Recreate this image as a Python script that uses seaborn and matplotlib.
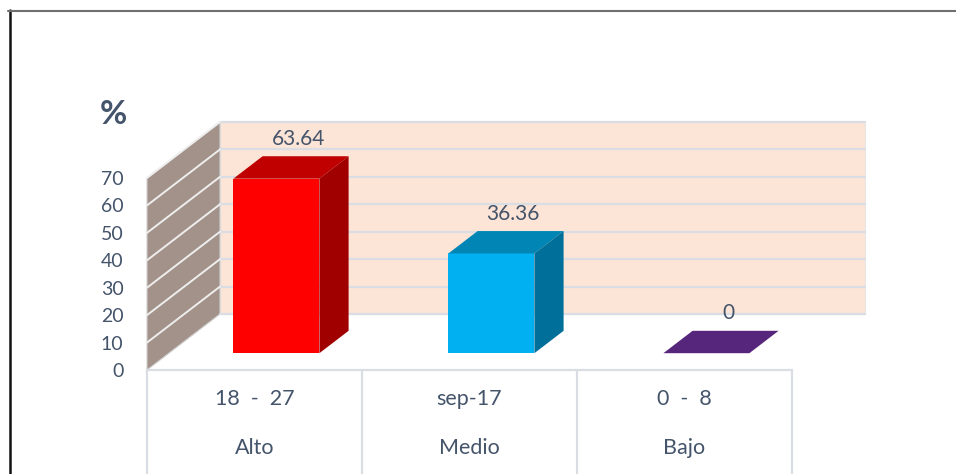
import matplotlib
matplotlib.use("Agg")
import matplotlib.pyplot as plt
from matplotlib.patches import Polygon, Rectangle
from matplotlib.lines import Line2D
import seaborn as sns

# ---- data ----
ranges = ["18  -  27", "sep-17", "0  -  8"]
levels = ["Alto", "Medio", "Bajo"]
values = [63.64, 36.36, 0]
value_labels = ["63.64", "36.36", "0"]
yticks = [0, 10, 20, 30, 40, 50, 60, 70]

front_colors = ["#FF0000", "#00B0F0", "#7030A0"]
top_colors = ["#C00000", "#0085B5", "#56257C"]
side_colors = ["#A00000", "#00709A", "#4A1F6A"]

sns.set_style("white")
plt.rcParams["font.family"] = ["Lato", "DejaVu Sans"]
TXT = "#44546A"
GRID = "#DADDE3"

W, H = 956, 474
fig = plt.figure(figsize=(W / 100, H / 100), dpi=100)
ax = fig.add_axes([147 / W, 104 / H, 645 / W, 192 / H])

# oblique projection constants (data units per unit depth)
KX = 73 / 215
KY = 56 / (192 / 70)
D0, D1 = 0.3, 0.7
BW = 0.4

sns.barplot(x=levels, y=values, hue=levels, palette=front_colors, legend=False,
            width=BW, ax=ax, linewidth=0, saturation=1, zorder=5)
bars = [pp for pp in ax.patches if isinstance(pp, Rectangle)]
bars.sort(key=lambda r: r.get_x())
ax.set_xlim(-0.5, 2.5)
ax.set_ylim(0, 70)

# back wall
xl, xr = -0.5, 2.5
ax.add_patch(Polygon([(xl + KX, KY), (xr + KX, KY), (xr + KX, 70 + KY), (xl + KX, 70 + KY)],
                     closed=True, facecolor="#FCE4D6", edgecolor="#E6E6E6", lw=0.8,
                     clip_on=False, zorder=1))
for v in yticks:
    ax.plot([xl + KX, xr + KX], [v + KY, v + KY], color=GRID, lw=1.6, clip_on=False, zorder=2)
# side wall
ax.add_patch(Polygon([(xl, 0), (xl + KX, KY), (xl + KX, 70 + KY), (xl, 70)], closed=True,
                     facecolor="#A39289", edgecolor="#D0D0D0", lw=0.8, clip_on=False, zorder=1))
for v in yticks[1:]:
    ax.plot([xl, xl + KX], [v, v + KY], color="#EEEEEE", lw=1.4, clip_on=False, zorder=2)

# bars: shift front faces to their depth, add top and side faces
for i, p in enumerate(bars):
    x0 = p.get_x() + D0 * KX
    h = p.get_height()
    y0 = D0 * KY
    p.set_x(x0)
    p.set_y(y0)
    p.set_clip_on(False)
    dx = (D1 - D0) * KX
    dy = (D1 - D0) * KY
    x1 = x0 + BW
    top = [(x0, y0 + h), (x1, y0 + h), (x1 + dx, y0 + h + dy), (x0 + dx, y0 + h + dy)]
    ax.add_patch(Polygon(top, closed=True, facecolor=top_colors[i], lw=0, clip_on=False, zorder=6))
    if h > 0:
        side = [(x1, y0), (x1 + dx, y0 + dy), (x1 + dx, y0 + h + dy), (x1, y0 + h)]
        ax.add_patch(Polygon(side, closed=True, facecolor=side_colors[i], lw=0, clip_on=False, zorder=6))
    xc = i + 0.6 * KX
    yc = h + 0.6 * KY
    ax.annotate(value_labels[i], (xc, yc), xytext=(0, 23), textcoords="offset pixels",
                ha="center", va="center", fontsize=15, color=TXT, zorder=8,
                annotation_clip=False)

# axes styling
for s in ["top", "right", "left"]:
    ax.spines[s].set_visible(False)
ax.spines["bottom"].set_color(GRID)
ax.spines["bottom"].set_linewidth(1.6)
ax.set_yticks(yticks)
ax.set_yticklabels([str(t) for t in yticks], fontsize=14, color=TXT)
ax.tick_params(axis="y", length=0, pad=17)
ax.set_xticks(range(len(ranges)))
ax.set_xticklabels(ranges, fontsize=15.5, color=TXT)
ax.tick_params(axis="x", length=0, pad=14)
ax.set_xlabel("")
ax.set_ylabel("")
ax.patch.set_alpha(0)

# category table
ax.vlines([-0.5, 0.5, 1.5, 2.5], -45, 0, color=GRID, lw=1.6, clip_on=False)
for i, lab in enumerate(levels):
    ax.text(i, -28.5, lab, ha="center", va="center", fontsize=15.5, color=TXT)

# percent sign
fig.text(113 / W, 1 - 114 / H, "%", ha="center", va="center", fontsize=24,
         fontweight="bold", color=TXT)

# frame lines
fig.add_artist(Line2D([9.5 / W, 9.5 / W], [0, 1 - 10 / H], color="#111111", lw=1.8))
fig.add_artist(Line2D([8 / W, 1], [1 - 11 / H, 1 - 11 / H], color="#707070", lw=1.5))

fig.savefig("out.png", dpi=100)
